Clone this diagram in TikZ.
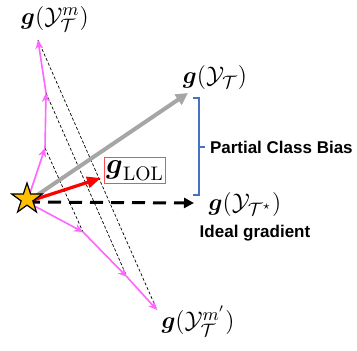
\documentclass[tikz,border=0pt]{standalone}
\usepackage{amsmath,amssymb}
\usepackage{fontspec}
\newfontfamily\labelfont{Liberation Sans}
\usetikzlibrary{positioning,arrows.meta,shapes.geometric}
\usepackage{xcolor}
\definecolor{pinkline}{RGB}{255,102,255}
\definecolor{biasblue}{RGB}{68,114,196}
\definecolor{stargold}{RGB}{255,192,0}

\begin{document}
\begin{tikzpicture}[x=0.5pt,y=-0.5pt,>={Stealth[length=2mm]},
  mathlabel/.style={font=\fontsize{12.5}{14}\selectfont,inner sep=1pt},
  textlabel/.style={font=\labelfont\bfseries\fontsize{8.5}{10}\selectfont,inner sep=1pt},
  proj/.style={line width=0.35pt,dash pattern=on 1.5pt off 1pt},
  pinkstep/.style={->,pinkline,line width=0.8pt,>={Stealth[length=4.5pt,width=4pt]}}]
\useasboundingbox (0,0) rectangle (357,351);
\coordinate (o) at (27,202);
\coordinate (u1) at (45,148);
\coordinate (u2) at (46,93);
\coordinate (u3) at (38,40);
\coordinate (l1) at (83,232);
\coordinate (l2) at (127,277);
\coordinate (l3) at (157,310);
\coordinate (gt) at (188,93);
\coordinate (rt) at (101,178);
\coordinate (dt) at (194,203);
\draw[proj] (u1) -- (l1);
\draw[proj] (u2) -- (l2);
\draw[proj] (u3) -- (l3);
\draw[pinkstep] (o) -- (u1);
\draw[pinkstep] (u1) -- (u2);
\draw[pinkstep] (u2) -- (u3);
\draw[pinkstep] (o) -- (l1);
\draw[pinkstep] (l1) -- (l2);
\draw[pinkstep] (l2) -- (l3);
\draw[->,gray!70,line width=2pt,>={Triangle[length=6pt,width=6pt]}] (o) -- (gt);
\draw[->,red,line width=1.6pt,>={Triangle[length=7pt,width=5.5pt]}] (o) -- (rt);
\draw[->,line width=1.5pt,dash pattern=on 6.5pt off 4pt,>={Triangle[length=5pt,width=5pt]}] (o) -- (dt);
\node[star,star points=5,star point ratio=2.6,draw,fill=stargold,minimum size=16pt,inner sep=0pt,line width=0.6pt] (s) at (27,199) {};
\node[draw=red!70,fill=white,minimum width=27.5pt,minimum height=13pt,inner sep=1pt,line width=0.5pt,font=\fontsize{14}{16}\selectfont] (lol) at (135,171) {$\boldsymbol{g}_{\mathrm{LOL}}$};
\node[mathlabel] (top) at (55,19) {$\boldsymbol{g}(\mathcal{Y}_{\mathcal{T}}^{m})$};
\node[mathlabel] (bot) at (198,321) {$\boldsymbol{g}(\mathcal{Y}_{\mathcal{T}}^{m'})$};
\node[mathlabel] (full) at (215,78) {$\boldsymbol{g}(\mathcal{Y}_{\mathcal{T}})$};
\node[mathlabel] (ideal) at (245,205) {$\boldsymbol{g}(\mathcal{Y}_{\mathcal{T}^\star})$};
\node[textlabel] (idealtxt) at (255,233) {Ideal gradient};
% bracket between the two gradients
\coordinate (bt) at (199,98);
\coordinate (bb) at (199,195);
\coordinate (bm) at (199,147);
\draw[biasblue,line width=1pt] ([xshift=-3pt]bt) -- (bt) -- (bb) -- ([xshift=-3pt]bb);
\draw[biasblue,line width=1pt] (bm) -- ++(6,0) node[textlabel,black,anchor=west,xshift=1pt] (bias) {Partial Class Bias};
\end{tikzpicture}
\end{document}
